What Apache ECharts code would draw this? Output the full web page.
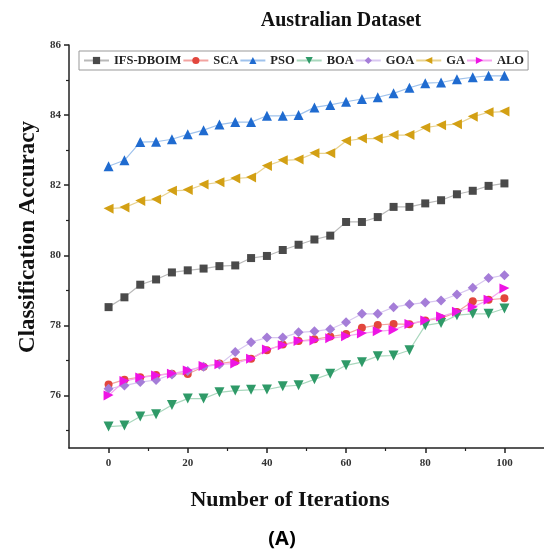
<!DOCTYPE html>
<html>
<head>
<meta charset="utf-8">
<script src="https://cdn.jsdelivr.net/npm/echarts@6/dist/echarts.min.js"></script>
<style>
    html, body { margin: 0; padding: 0; background: #fff; }
    #main { width: 544px; height: 555px; }
</style>
</head>
<body>
<div id="main"></div>
<script>
// 迭代次数
let iterations = [0, 4, 8, 12, 16, 20, 24, 28, 32, 36, 40, 44, 48, 52, 56, 60, 64, 68, 72, 76, 80, 84, 88, 92, 96, 100];
let yLabels = [76, 78, 80, 82, 84, 86];
let yMinorTicks = [75, 77, 79, 81, 83, 85];
let xLabels = [0, 20, 40, 60, 80, 100];
let xMinorTicks = [10, 30, 50, 70, 90];

let ifsDboim = [78.52, 78.8, 79.16, 79.31, 79.51, 79.57, 79.62, 79.69, 79.71, 79.92, 79.98, 80.15, 80.3, 80.45, 80.56, 80.95, 80.95, 81.09, 81.38, 81.38, 81.48, 81.57, 81.74, 81.84, 81.98, 82.05];
let sca = [76.31, 76.45, 76.52, 76.58, 76.62, 76.61, 76.82, 76.91, 76.97, 77.05, 77.29, 77.45, 77.55, 77.6, 77.68, 77.75, 77.93, 78.01, 78.04, 78.03, 78.14, 78.2, 78.38, 78.69, 78.73, 78.77];
let pso = [82.54, 82.71, 83.23, 83.24, 83.31, 83.45, 83.57, 83.73, 83.8, 83.8, 83.98, 83.98, 84.0, 84.22, 84.29, 84.38, 84.46, 84.51, 84.62, 84.78, 84.91, 84.93, 85.02, 85.08, 85.12, 85.12];
let boa = [75.11, 75.14, 75.4, 75.46, 75.73, 75.91, 75.91, 76.09, 76.14, 76.16, 76.17, 76.26, 76.29, 76.46, 76.62, 76.86, 76.95, 77.12, 77.14, 77.29, 78.0, 78.07, 78.29, 78.33, 78.33, 78.48];
let goa = [76.19, 76.28, 76.38, 76.44, 76.6, 76.7, 76.82, 76.88, 77.24, 77.52, 77.65, 77.65, 77.8, 77.83, 77.89, 78.09, 78.33, 78.33, 78.52, 78.6, 78.65, 78.71, 78.88, 79.07, 79.35, 79.43];
let ga = [81.33, 81.36, 81.55, 81.59, 81.84, 81.86, 82.02, 82.08, 82.19, 82.22, 82.55, 82.71, 82.73, 82.91, 82.91, 83.26, 83.33, 83.33, 83.43, 83.43, 83.64, 83.71, 83.74, 83.95, 84.08, 84.1];
let alo = [76.0, 76.41, 76.51, 76.57, 76.62, 76.71, 76.84, 76.89, 76.91, 77.05, 77.31, 77.43, 77.55, 77.57, 77.63, 77.69, 77.77, 77.83, 77.87, 78.04, 78.14, 78.25, 78.39, 78.52, 78.73, 79.05];

const serif = '"Liberation Serif", "Times New Roman", serif';
const c_axis = '#222';
// 三角形的几个方向
const tri_down = 'path://M0,0 L10,0 L5,9 Z';
const tri_left = 'path://M0,4.5 L9,0 L9,10 Z';
const tri_right = 'path://M0,0 L9,4.5 L0,10 Z';

let Chart = {
    init() {
        this.chart = echarts.init(document.getElementById('main'));
        this.chart.setOption(this.option());
    },
    pairs(ys) {
        return iterations.map((x, i) => [x, ys[i]]);
    },
    option() {
        let seri = [
            { name: 'IFS-DBOIM', data: ifsDboim, symbol: 'rect', symbolSize: 8, color: '#4a4a4a', line: '#b9b9b9' },
            { name: 'SCA', data: sca, symbol: 'circle', symbolSize: 8, color: '#e2463d', line: '#f2a3a0' },
            { name: 'PSO', data: pso, symbol: 'triangle', symbolSize: 10, color: '#1f6bd0', line: '#9fc2ec' },
            { name: 'BOA', data: boa, symbol: tri_down, symbolSize: 10, color: '#2f9a68', line: '#a9d7bd' },
            { name: 'GOA', data: goa, symbol: 'diamond', symbolSize: 10, color: '#a57dd8', line: '#d8c7f0' },
            { name: 'GA', data: ga, symbol: tri_left, symbolSize: 10, color: '#d3a014', line: '#e8d28f' },
            { name: 'ALO', data: alo, symbol: tri_right, symbolSize: 10, color: '#ee14e4', line: '#f6a6f0' }
        ].map(item => {
            return {
                type: 'line',
                name: item.name,
                data: this.pairs(item.data),
                symbol: item.symbol,
                symbolSize: item.symbolSize,
                showAllSymbol: true,
                itemStyle: { color: item.color, borderWidth: 0 },
                lineStyle: { color: item.line, width: 1.2 },
                emphasis: { disabled: true }
            };
        });
        let axisText = { fontFamily: serif, fontWeight: 'bold', fontSize: 11, color: '#333' };
        return {
            animation: false,
            backgroundColor: '#fff',
            title: [{
                text: 'Australian Dataset',
                left: 336, top: 6, textAlign: 'center',
                textStyle: { fontFamily: serif, fontWeight: 'bold', fontSize: 20, color: '#111' }
            }, {
                text: 'Number of Iterations',
                left: 285, top: 484, textAlign: 'center',
                textStyle: { fontFamily: serif, fontWeight: 'bold', fontSize: 22, color: '#111' }
            }, {
                text: '(A)',
                left: 277, top: 524, textAlign: 'center',
                textStyle: { fontFamily: '"Open Sans", "Noto Sans", sans-serif', fontWeight: 'bold', fontSize: 20, color: '#000' }
            }],
            graphic: [{
                type: 'text',
                x: 28, y: 237,
                rotation: Math.PI / 2,
                style: {
                    text: 'Classification Accuracy',
                    font: 'bold 23px ' + serif,
                    fill: '#111',
                    textAlign: 'center',
                    textVerticalAlign: 'middle'
                }
            }],
            legend: {
                left: 79, top: 51,
                padding: [3, 4],
                itemGap: 1,
                itemWidth: 25,
                itemHeight: 9,
                borderColor: '#999',
                borderWidth: 1,
                textStyle: { fontFamily: serif, fontWeight: 'bold', fontSize: 12.5, color: '#222' },
                data: seri.map(s => s.name)
            },
            grid: { left: 69, right: 0, top: 45, bottom: 107 },
            xAxis: [{
                type: 'value', min: -10, max: 110,
                splitLine: { show: false },
                axisLine: { onZero: false, lineStyle: { color: c_axis, width: 1.5 } },
                axisTick: { length: 5, customValues: xLabels, lineStyle: { color: c_axis, width: 1.5 } },
                axisLabel: $ext(axisText, { margin: 10, customValues: xLabels })
            }, {
                type: 'value', min: -10, max: 110, position: 'bottom',
                splitLine: { show: false },
                axisLine: { show: false, onZero: false },
                axisTick: { length: 3, customValues: xMinorTicks, lineStyle: { color: c_axis, width: 1.2 } },
                axisLabel: { show: false }
            }],
            yAxis: [{
                type: 'value', min: 74.5, max: 86,
                splitLine: { show: false },
                axisLine: { show: true, onZero: false, lineStyle: { color: c_axis, width: 1.5 } },
                axisTick: { show: true, length: 5, customValues: yLabels, lineStyle: { color: c_axis, width: 1.5 } },
                axisLabel: $ext(axisText, { margin: 8, customValues: yLabels })
            }, {
                type: 'value', min: 74.5, max: 86, position: 'left',
                splitLine: { show: false },
                axisLine: { show: false, onZero: false },
                axisTick: { show: true, length: 3, customValues: yMinorTicks, lineStyle: { color: c_axis, width: 1.2 } },
                axisLabel: { show: false }
            }],
            series: seri
        };
    }
};

function $ext(a, b) {
    return Object.assign({}, a, b);
}

Chart.init();
</script>
</body>
</html>
